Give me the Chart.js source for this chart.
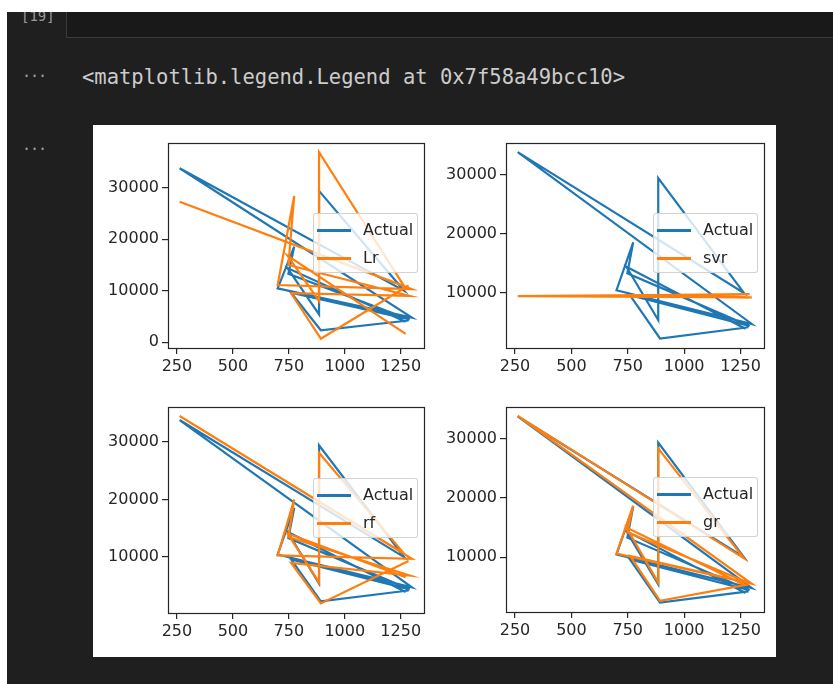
<!DOCTYPE html>
<html>
<head>
<meta charset="utf-8">
<script src="https://cdn.jsdelivr.net/npm/chart.js@4.4.0/dist/chart.umd.min.js"></script>
<style>
  html, body { margin:0; padding:0; }
  body { width:833px; height:684px; overflow:hidden; position:relative; background:#1f1f1f; font-family:"DejaVu Sans", sans-serif; }
  .topstrip { position:absolute; left:0; top:0; width:833px; height:12px; background:#ffffff; z-index:5; }
  .leftstrip { position:absolute; left:0; top:0; width:7px; height:684px; background:#ffffff; z-index:5; }
  .inbox { position:absolute; left:66px; top:0; width:767px; height:37px; background:#191919; border-left:1px solid #3a3a3a; border-bottom:1px solid #3a3a3a; }
  .cellno { position:absolute; left:21px; top:7px; font:14px/19px "DejaVu Sans Mono", monospace; color:#9a9a9a; }
  .dots { position:absolute; left:22px; font:15px/16px "DejaVu Sans Mono", monospace; color:#a0a0a0; letter-spacing:-1px; }
  .repr { position:absolute; left:82px; top:64px; font:20.5px/26px "DejaVu Sans Mono", monospace; color:#cccccc; white-space:nowrap; }
  .figure { position:absolute; left:93px; top:125px; width:683px; height:532px; background:#ffffff; }
  canvas.panel { position:absolute; }
  .legend { position:absolute; width:105px; height:60px; background:rgba(255,255,255,0.8); border:1px solid rgba(200,200,200,0.8); border-radius:3px; box-sizing:border-box; z-index:3; }
  .legend .row { position:absolute; left:3px; height:20px; }
  .legend .hd { position:absolute; left:0; top:9px; width:34px; height:3px; }
  .legend .tx { position:absolute; left:46px; top:0; font:16px/20px "DejaVu Sans", sans-serif; color:#262626; white-space:nowrap; }
</style>
</head>
<body>
<div class="inbox"></div>
<div class="cellno">[19]</div>
<div class="dots" style="top:64px">...</div>
<div class="repr">&lt;matplotlib.legend.Legend at 0x7f58a49bcc10&gt;</div>
<div class="dots" style="top:137px">...</div>
<div class="figure"></div>
<div class="topstrip"></div>
<div class="leftstrip"></div>

<script>
// ---- data (test-set order, x not sorted) ----
const xValues  = [1272, 744, 885, 885, 1265, 262, 1300, 700, 774, 748, 1290, 760, 893, 1285];
const actual   = [3950, 14400, 5400, 29400, 10000, 33800, 4750, 10450, 18550, 13300, 4400, 9600, 2300, 4200];
const lrPred   = [1600, 16800, 8000, 36900, 10900, 27300, 10300, 11100, 28400, 15000, 9000, 9500, 680, 11000];
const svrPred  = [9300, 9650, 9500, 9600, 9750, 9450, 9250, 9550, 9500, 9600, 9800, 9400, 9450, 9200];
const rfPred   = [6500, 14100, 5600, 28100, 10600, 34500, 9700, 10300, 20000, 13500, 6800, 9000, 1950, 9300];
const grPred   = [5200, 15000, 5700, 28400, 9800, 33900, 5500, 10600, 18700, 14200, 5600, 10200, 2600, 5400];
const modelNames = ['Lr', 'svr', 'rf', 'gr'];
const actualName = 'Actual';
const xTicks   = [250, 500, 750, 1000, 1250];
const yTicksLr = [0, 10000, 20000, 30000];
const yTicks   = [10000, 20000, 30000];

// ---- layout ----
const BLUE = '#1f77b4', ORANGE = '#ff7f0e', INK = '#262626';
const PADL = 80, PADT = 8, PADR = 14, PADB = 40;
const panels = [
  { box:{l:168, t:138, w:256, h:210}, pred: lrPred,  name: modelNames[0], yMin:-1140, yMax:38780, yt: yTicksLr },
  { box:{l:506, t:138, w:258, h:210}, pred: svrPred, name: modelNames[1], yMin:690,   yMax:35400, yt: yTicks },
  { box:{l:168, t:402, w:256, h:211}, pred: rfPred,  name: modelNames[2], yMin:290,   yMax:36130, yt: yTicks },
  { box:{l:506, t:402, w:258, h:210}, pred: grPred,  name: modelNames[3], yMin:720,   yMax:35470, yt: yTicks },
];

const framePlugin = {
  id: 'frame',
  afterDatasetsDraw(chart) {
    const { ctx, chartArea: a } = chart;
    ctx.save();
    ctx.strokeStyle = INK;
    ctx.lineWidth = 1.2;
    ctx.strokeRect(Math.round(a.left) + 0.5, Math.round(a.top) + 0.5, Math.round(a.width), Math.round(a.height));
    ctx.restore();
  }
};

function pts(ys) { return xValues.map((x, i) => ({ x: x, y: ys[i] })); }

panels.forEach((p) => {
  const cv = document.createElement('canvas');
  cv.className = 'panel';
  const W = p.box.w + PADL + PADR, H = p.box.h + PADT + PADB;
  cv.width = W; cv.height = H;
  cv.style.left = (p.box.l - PADL) + 'px';
  cv.style.top = (p.box.t - PADT) + 'px';
  cv.style.width = W + 'px'; cv.style.height = H + 'px';
  document.body.appendChild(cv);

  const tickFont = { family: 'DejaVu Sans', size: 16 };
  new Chart(cv.getContext('2d'), {
    type: 'scatter',
    data: {
      datasets: [
        { label: actualName, data: pts(actual), showLine: true, borderColor: BLUE, backgroundColor: BLUE, borderWidth: 2.2, pointRadius: 0, order: 2 },
        { label: p.name, data: pts(p.pred), showLine: true, borderColor: ORANGE, backgroundColor: ORANGE, borderWidth: 2.2, pointRadius: 0, order: 1 }
      ]
    },
    options: {
      responsive: false,
      devicePixelRatio: 1,
      animation: false,
      events: [],
      layout: { padding: { left: 0, top: PADT, right: PADR, bottom: 0 } },
      plugins: { legend: { display: false }, tooltip: { enabled: false } },
      scales: {
        x: {
          type: 'linear', min: 210, max: 1354,
          afterBuildTicks: (s) => { s.ticks = xTicks.map(v => ({ value: v })); },
          afterFit: (s) => { s.height = PADB; },
          ticks: { font: tickFont, color: INK, padding: 3, maxRotation: 0, autoSkip: false, callback: (v) => String(v) },
          grid: { display: true, drawOnChartArea: false, drawTicks: true, tickLength: 6, color: INK, lineWidth: 1.2 },
          border: { display: false }
        },
        y: {
          type: 'linear', min: p.yMin, max: p.yMax,
          afterBuildTicks: (s) => { s.ticks = p.yt.map(v => ({ value: v })); },
          afterFit: (s) => { s.width = PADL; },
          ticks: { font: tickFont, color: INK, padding: 3, autoSkip: false, callback: (v) => String(v) },
          grid: { display: true, drawOnChartArea: false, drawTicks: true, tickLength: 6, color: INK, lineWidth: 1.2 },
          border: { display: false }
        }
      }
    },
    plugins: [framePlugin]
  });

  // legend (matplotlib style, centre right inside the axes)
  const lg = document.createElement('div');
  lg.className = 'legend';
  lg.style.left = (p.box.l + p.box.w - 6 - 105) + 'px';
  lg.style.top = (p.box.t + p.box.h / 2 - 30) + 'px';
  [[actualName, BLUE], [p.name, ORANGE]].forEach((r, i) => {
    const row = document.createElement('div');
    row.className = 'row';
    row.style.top = (6 + i * 28) + 'px';
    const hd = document.createElement('div');
    hd.className = 'hd'; hd.style.background = r[1];
    const tx = document.createElement('div');
    tx.className = 'tx'; tx.textContent = r[0];
    row.appendChild(hd); row.appendChild(tx);
    lg.appendChild(row);
  });
  document.body.appendChild(lg);
});
</script>
</body>
</html>
